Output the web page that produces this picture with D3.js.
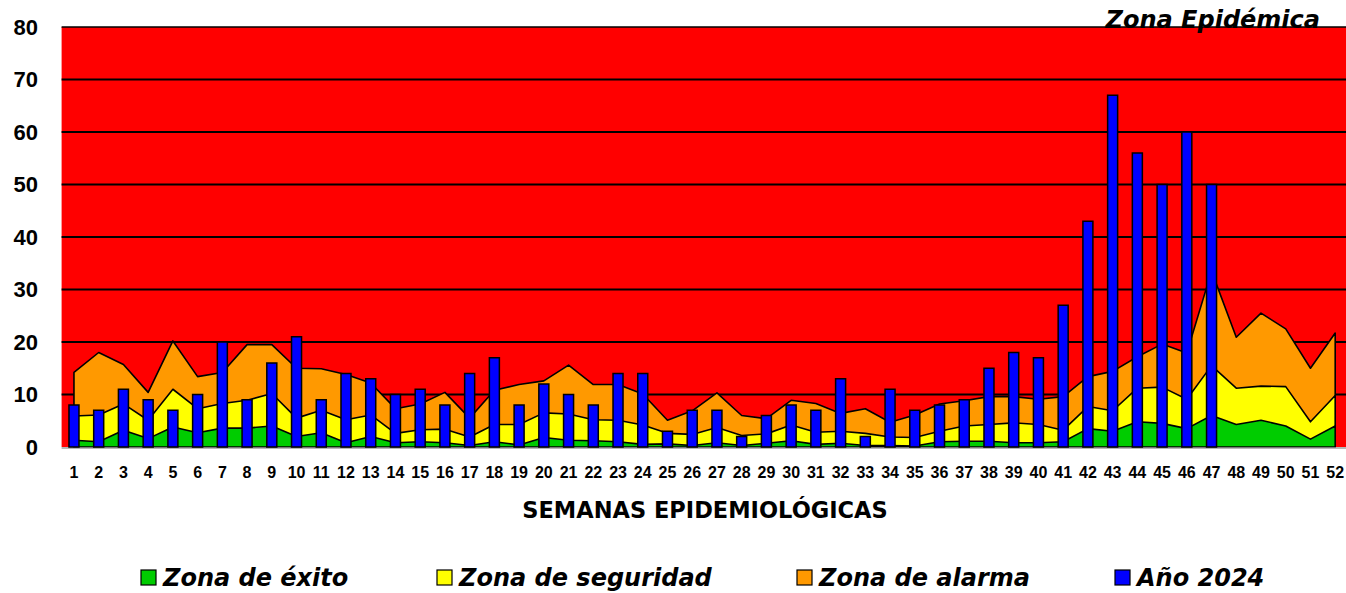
<!DOCTYPE html>
<html>
<head>
<meta charset="utf-8">
<script src="https://cdnjs.cloudflare.com/ajax/libs/d3/7.8.5/d3.min.js"></script>
<style>
    body { margin: 0; background: #fff; }
    svg { display: block; }
    .tick-label { font-family: "Liberation Sans", Arial, sans-serif; font-weight: bold; fill: #000; }
    .title-label { font-family: "DejaVu Sans", sans-serif; font-weight: bold; fill: #000; }
    .legend-label { font-family: "DejaVu Sans", sans-serif; font-weight: bold; font-style: italic; fill: #000; }
</style>
</head>
<body>
<svg id="chart"></svg>
<script>
// Semanas epidemiológicas
const weeks = [1, 2, 3, 4, 5, 6, 7, 8, 9, 10, 11, 12, 13, 14, 15, 16, 17, 18, 19, 20, 21, 22, 23, 24, 25, 26,
    27, 28, 29, 30, 31, 32, 33, 34, 35, 36, 37, 38, 39, 40, 41, 42, 43, 44, 45, 46, 47, 48, 49, 50, 51, 52];

// Upper limit of each zone (canal endémico)
const zonaAlarma = [14.2, 18.0, 15.7, 10.4, 20.2, 13.4, 14.2, 19.5, 19.5, 15.0,
    14.9, 13.8, 12.2, 7.3, 8.2, 10.4, 5.5, 10.8, 11.9, 12.6,
    15.6, 11.9, 11.9, 10.1, 5.1, 6.9, 10.3, 6.0, 5.4, 8.9,
    8.3, 6.4, 7.3, 4.7, 6.1, 8.2, 8.8, 9.6, 9.6, 9.1,
    9.6, 13.4, 14.4, 17.2, 19.6, 17.9, 33.5, 20.9, 25.5, 22.5,
    15.0, 21.7];
const zonaSeguridad = [5.9, 6.1, 8.2, 5.1, 11.0, 7.3, 8.3, 8.9, 10.2, 5.5,
    7.0, 5.2, 6.1, 2.6, 3.3, 3.4, 1.9, 4.3, 4.3, 6.5,
    6.3, 5.2, 5.1, 4.2, 2.6, 2.4, 3.7, 2.2, 2.5, 4.2,
    2.8, 3.0, 2.6, 1.9, 1.8, 3.0, 4.0, 4.3, 4.6, 4.3,
    3.2, 7.7, 6.9, 11.2, 11.4, 9.1, 15.5, 11.2, 11.6, 11.5,
    4.8, 9.8];
const zonaExito = [1.3, 1.0, 3.2, 1.6, 3.8, 2.7, 3.6, 3.6, 4.0, 2.0,
    2.7, 0.8, 2.0, 0.8, 1.0, 0.8, 0.3, 1.0, 0.4, 1.8,
    1.3, 1.2, 1.0, 0.5, 0.6, 0.3, 0.8, 0.3, 0.7, 1.2,
    0.5, 0.7, 0.3, 0.3, 0.2, 1.0, 1.1, 1.1, 0.8, 0.8,
    1.0, 3.5, 3.0, 4.8, 4.5, 3.5, 6.0, 4.3, 5.1, 4.0,
    1.5, 4.0];

// Casos año 2024 (hasta semana 47)
const casos2024 = [8, 7, 11, 9, 7, 10, 20, 9, 16, 21, 9, 14, 13, 10, 11, 8, 14, 17, 8, 12,
    10, 8, 14, 14, 3, 7, 7, 2, 6, 8, 7, 13, 2, 11, 7, 8, 9, 15, 18, 17,
    27, 43, 67, 56, 50, 60, 50, null, null, null, null, null];

const yTicks = [0, 10, 20, 30, 40, 50, 60, 70, 80];

const legendItems = [
    { label: "Zona de éxito", color: "#00CC00" },
    { label: "Zona de seguridad", color: "#FFFF00" },
    { label: "Zona de alarma", color: "#FF9900" },
    { label: "Año 2024", color: "#0000FF" }
];

const W = 1346, H = 593;
const margin = { top: 27, left: 61.6, bottom: 146 };
const bandStep = 24.73;
const plotRight = margin.left + bandStep * weeks.length;
const plotBottom = H - margin.bottom;

const svg = d3.select("#chart")
    .attr("width", W)
    .attr("height", H);

const x = d3.scaleBand()
    .domain(weeks)
    .range([margin.left, plotRight])
    .padding(0);

const y = d3.scaleLinear()
    .domain([0, 80])
    .range([plotBottom, margin.top]);

const cx = d => x(d) + x.bandwidth() / 2;

// Epidemic zone = plot background
svg.append("rect")
    .attr("x", margin.left)
    .attr("y", y(80))
    .attr("width", plotRight - margin.left)
    .attr("height", y(0) - y(80))
    .attr("fill", "#FF0000");

// Grid lines
svg.append("g")
    .selectAll("line")
    .data(yTicks.filter(t => t > 0))
    .join("line")
    .attr("x1", margin.left)
    .attr("x2", plotRight)
    .attr("y1", d => y(d))
    .attr("y2", d => y(d))
    .attr("stroke", "#000")
    .attr("stroke-width", d => d === 80 ? 1.5 : 2);

// Zones, largest first
const zones = [
    { values: zonaAlarma, color: "#FF9900" },
    { values: zonaSeguridad, color: "#FFFF00" },
    { values: zonaExito, color: "#00CC00" }
];

const area = d3.area()
    .x((d, i) => cx(weeks[i]))
    .y0(y(0))
    .y1(d => y(d));

svg.append("g")
    .selectAll("path")
    .data(zones)
    .join("path")
    .attr("d", d => area(d.values) + "Z")
    .attr("fill", d => d.color)
    .attr("stroke", "#000")
    .attr("stroke-width", 1.6)
    .attr("stroke-linejoin", "round");

// Bottom axis line
svg.append("line")
    .attr("x1", margin.left)
    .attr("x2", plotRight)
    .attr("y1", y(0) + 1)
    .attr("y2", y(0) + 1)
    .attr("stroke", "#a0a0a0")
    .attr("stroke-width", 1.5);

// Bars 2024
const barW = 10;
svg.append("g")
    .selectAll("rect")
    .data(weeks.map((w, i) => ({ w, v: casos2024[i] })).filter(d => d.v !== null))
    .join("rect")
    .attr("x", d => cx(d.w) - barW / 2)
    .attr("y", d => y(d.v))
    .attr("width", barW)
    .attr("height", d => y(0) - y(d.v))
    .attr("fill", "#0000FF")
    .attr("stroke", "#000")
    .attr("stroke-width", 1.5);

// Y axis labels
svg.append("g")
    .selectAll("text")
    .data(yTicks)
    .join("text")
    .attr("class", "tick-label")
    .attr("x", 38)
    .attr("y", d => y(d))
    .attr("text-anchor", "end")
    .attr("dominant-baseline", "central")
    .style("font-size", "22px")
    .text(d => d);

// X axis labels
svg.append("g")
    .selectAll("text")
    .data(weeks)
    .join("text")
    .attr("class", "tick-label")
    .attr("x", d => cx(d))
    .attr("y", 478)
    .attr("text-anchor", "middle")
    .style("font-size", "16px")
    .text(d => d);

svg.append("text")
    .attr("class", "title-label")
    .attr("x", 705)
    .attr("y", 518)
    .attr("text-anchor", "middle")
    .style("font-size", "22.5px")
    .text("SEMANAS EPIDEMIOLÓGICAS");

svg.append("text")
    .attr("class", "legend-label")
    .attr("x", 1320)
    .attr("y", 28)
    .attr("text-anchor", "end")
    .style("font-size", "24px")
    .text("Zona Epidémica");

// Legend
const legendX = [141, 437, 797, 1115];
const legend = svg.append("g")
    .selectAll("g")
    .data(legendItems)
    .join("g")
    .attr("transform", (d, i) => `translate(${legendX[i]},570)`);

legend.append("rect")
    .attr("width", 15)
    .attr("height", 15)
    .attr("fill", d => d.color)
    .attr("stroke", "#000")
    .attr("stroke-width", 1.2);

legend.append("text")
    .attr("class", "legend-label")
    .attr("x", 22)
    .attr("y", 16)
    .style("font-size", "24px")
    .text(d => d.label);
</script>
</body>
</html>
